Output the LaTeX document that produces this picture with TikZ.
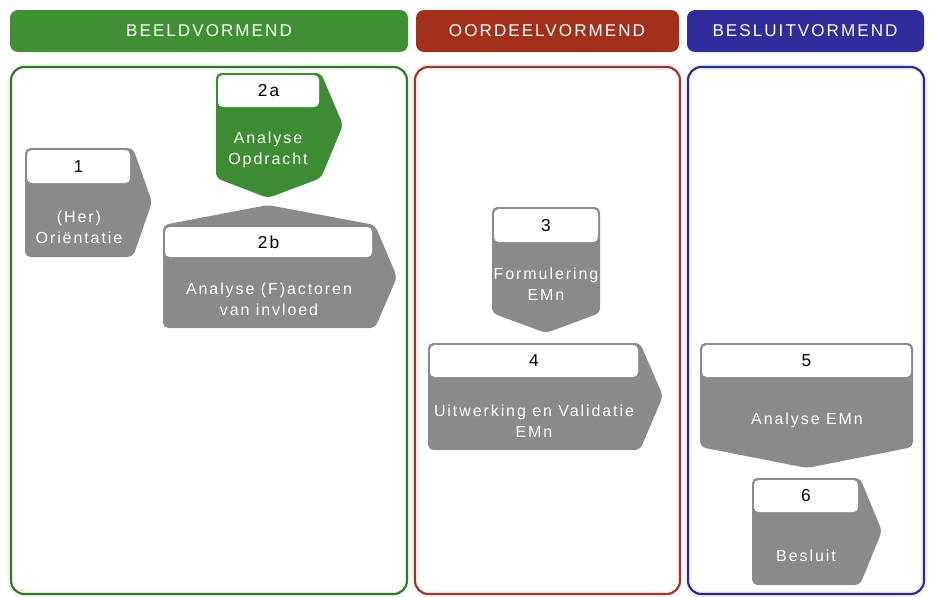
\documentclass[tikz,border=0pt]{standalone}
\usepackage{fontspec}
\setmainfont{Liberation Sans}[LetterSpace=12]
\definecolor{hdrgreen}{HTML}{3F8F33}
\definecolor{hdrred}{HTML}{A3301A}
\definecolor{hdrblue}{HTML}{302C9C}
\definecolor{bdrgreen}{HTML}{3C6E36}
\definecolor{bdrred}{HTML}{8E3A36}
\definecolor{bdrblue}{HTML}{2C2A86}
\definecolor{stepgray}{HTML}{8A8A8A}
\definecolor{stepgreen}{HTML}{3D8B32}
\tikzset{
  header/.style={rounded corners=6pt},
  headertext/.style={text=white, font=\fontsize{12.8}{14}\selectfont},
  panel/.style={line width=1.6pt, rounded corners=10pt},
  halo/.style={line width=5pt, rounded corners=10pt, opacity=0.2},
  stepbody/.style={rounded corners=4pt},
  labelbox/.style={fill=white, rounded corners=3.5pt},
  numtext/.style={text=black, font=\fontsize{13}{15}\selectfont},
  bodytext/.style={text=white, align=center, font=\fontsize{12}{15.5}\selectfont},
}
\begin{document}
\begin{tikzpicture}[x=0.75pt, y=-0.75pt]
\useasboundingbox (0,0) rectangle (935,596);

% column headers
\fill[header, hdrgreen] (10,10) rectangle (408,52);
\fill[header, hdrred]   (416,10) rectangle (679,52);
\fill[header, hdrblue]  (687,10) rectangle (924,52);
\node[headertext] (hbeeld)   at (209,31) {BEELDVORMEND};
\node[headertext] (hoordeel) at (547,31) {OORDEELVORMEND};
\node[headertext] (hbesluit) at (805,31) {BESLUITVORMEND};

% column panels
\draw[halo, green!40]  (11,67) rectangle (407,594);
\draw[halo, red!30]    (415,67) rectangle (680,594);
\draw[halo, blue!25]   (688,67) rectangle (924,594);
\draw[panel, bdrgreen] (11,67) rectangle (407,594);
\draw[panel, bdrred]   (415,67) rectangle (680,594);
\draw[panel, bdrblue]  (688,67) rectangle (924,594);

% step 1
\fill[stepbody, stepgray] (25,148) -- (133,148) -- (152,202) -- (133,257) -- (25,257) -- cycle;
\fill[labelbox] (27,150) rectangle (130,183);
\node[numtext] (n1) at (78.5,167) {1};
\node[bodytext] (t1) at (79,227) {(Her)\\Oriëntatie};

% step 2a
\fill[stepbody, stepgreen] (216,73) -- (321,73) -- (343,125) -- (321,178) -- (268,198) -- (216,178) -- cycle;
\fill[labelbox] (218,75) rectangle (319,107);
\node[numtext] (n2a) at (268.5,91) {2a};
\node[bodytext] (t2a) at (268,150) {Analyse\\Opdracht};

% step 2b
\fill[stepbody, stepgray] (163,225) -- (268,205) -- (375,225) -- (397,277) -- (375,328) -- (163,328) -- cycle;
\fill[labelbox] (165,227) rectangle (372,257);
\node[numtext] (n2b) at (268.5,242) {2b};
\node[bodytext] (t2b) at (269,299) {Analyse (F)actoren\\van invloed};

% step 3
\fill[stepbody, stepgray] (492,207) -- (600,207) -- (600,313) -- (546,333) -- (492,313) -- cycle;
\fill[labelbox] (494,209) rectangle (598,242);
\node[numtext] (n3) at (546,226) {3};
\node[bodytext] (t3) at (546,284) {Formulering\\EMn};

% step 4
\fill[stepbody, stepgray] (428,343) -- (640,343) -- (663,396) -- (640,450) -- (428,450) -- cycle;
\fill[labelbox] (430,345) rectangle (638,377);
\node[numtext] (n4) at (534,361) {4};
\node[bodytext] (t4) at (534,421) {Uitwerking en Validatie\\EMn};

% step 5
\fill[stepbody, stepgray] (700,343) -- (913,343) -- (913,447) -- (807,468) -- (700,447) -- cycle;
\fill[labelbox] (702,345) rectangle (911,377);
\node[numtext] (n5) at (806.5,361) {5};
\node[bodytext] (t5) at (807,420) {Analyse EMn};

% step 6
\fill[stepbody, stepgray] (752,478) -- (860,478) -- (882,531) -- (860,585) -- (752,585) -- cycle;
\fill[labelbox] (754,480) rectangle (858,512);
\node[numtext] (n6) at (806,496) {6};
\node[bodytext] (t6) at (806,556) {Besluit};
\end{tikzpicture}
\end{document}
